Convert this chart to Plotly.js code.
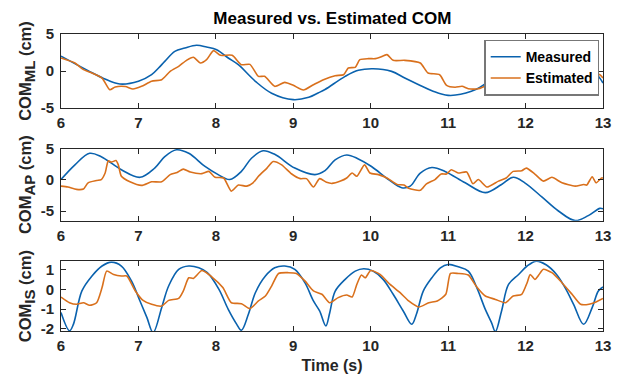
<!DOCTYPE html>
<html>
<head>
<meta charset="utf-8">
<script src="https://cdn.plot.ly/plotly-3.0.1.min.js"></script>
<style>html,body{margin:0;padding:0;background:#fff;}#chart{width:619px;height:380px;}</style>
</head>
<body>
<div id="chart"></div>
<script>
// ---- Data ----
const seriesNames = ["Measured", "Estimated"];
const xTickVals = [6, 7, 8, 9, 10, 11, 12, 13];
const xTickText = ["6", "7", "8", "9", "10", "11", "12", "13"];

// COM ML
const tMlMeas = [6.0, 6.35, 6.55, 6.76, 7.0, 7.17, 7.26, 7.34, 7.47, 7.6, 7.75, 7.88, 8.01, 8.16, 8.29, 8.51, 8.72, 9.0, 9.2, 9.32, 9.41, 9.67, 9.84, 10.03, 10.27, 10.44, 10.62, 10.79, 11.0, 11.3, 11.52, 11.76, 12.0, 12.2, 12.4, 12.65, 12.8, 12.94, 13.0];
const mlMeas  = [2.0, 0.04, -1.0, -1.76, -1.39, -0.5, 0.4, 1.3, 2.66, 3.1, 3.47, 3.24, 2.88, 1.76, 0.85, -1.39, -3.0, -3.87, -3.55, -2.97, -2.5, -0.72, 0.1, 0.31, -0.05, -0.95, -1.85, -2.66, -3.29, -2.75, -1.39, 1.3, 2.9, 3.5, 3.3, 1.8, 0.6, -0.72, -1.62];
const tMlEst = [6.0, 6.18, 6.29, 6.4, 6.53, 6.63, 6.7, 6.83, 6.93, 7.04, 7.17, 7.3, 7.41, 7.52, 7.62, 7.71, 7.8, 7.88, 7.97, 8.06, 8.21, 8.33, 8.44, 8.55, 8.63, 8.76, 8.89, 9.0, 9.13, 9.26, 9.39, 9.54, 9.65, 9.71, 9.8, 9.86, 9.97, 10.06, 10.12, 10.21, 10.29, 10.44, 10.64, 10.74, 10.89, 10.98, 11.09, 11.18, 11.26, 11.39, 11.52, 11.63, 11.78, 12.0, 12.3, 12.6, 12.8, 12.96, 13.0];
const mlEst  = [1.76, 1.08, 0.18, -0.27, -0.95, -2.52, -2.16, -2.1, -2.43, -2.07, -1.39, -1.17, -0.05, 0.63, 1.44, 1.85, 1.08, 1.53, 2.75, 2.12, 2.12, 0.85, 0.9, -0.72, -0.72, -2.07, -1.53, -1.94, -2.57, -1.85, -1.17, -0.63, -0.5, 0.41, 0.5, 1.53, 1.67, 1.67, 1.85, 2.21, 1.44, 1.44, 1.08, -0.27, -0.5, -1.94, -2.2, -2.07, -2.39, -2.39, -1.85, -1.26, -0.86, -0.9, -0.6, -0.8, -0.3, -0.5, -0.95];

// COM AP
const tApMeas = [6.0, 6.18, 6.37, 6.52, 6.78, 7.02, 7.21, 7.34, 7.49, 7.65, 7.86, 8.03, 8.18, 8.33, 8.46, 8.61, 8.76, 9.02, 9.28, 9.41, 9.54, 9.69, 9.84, 10.01, 10.23, 10.4, 10.51, 10.64, 10.79, 10.96, 11.22, 11.48, 11.69, 11.84, 11.99, 12.21, 12.42, 12.64, 12.81, 12.96, 13.0];
const apMeas  = [0.05, 2.41, 4.26, 3.72, 1.62, 0.41, 1.89, 3.72, 4.83, 4.26, 2.15, 0.84, 0.05, 1.36, 3.47, 4.67, 4.1, 1.89, 0.84, 1.47, 3.2, 4.0, 3.36, 2.15, 0.05, -1.26, -1.0, 1.1, 1.99, 1.36, -0.47, -2.05, -0.74, 0.41, -0.47, -2.74, -4.95, -6.53, -5.74, -4.57, -4.65];
const tApEst = [6.0, 6.09, 6.2, 6.29, 6.35, 6.46, 6.52, 6.57, 6.61, 6.65, 6.71, 6.74, 6.78, 6.89, 7.04, 7.17, 7.3, 7.41, 7.5, 7.58, 7.67, 7.82, 7.91, 7.99, 8.1, 8.2, 8.29, 8.4, 8.48, 8.55, 8.66, 8.74, 8.85, 8.98, 9.09, 9.17, 9.26, 9.34, 9.43, 9.5, 9.61, 9.69, 9.76, 9.82, 9.92, 9.99, 10.1, 10.21, 10.34, 10.43, 10.49, 10.64, 10.72, 10.83, 10.91, 10.98, 11.04, 11.13, 11.24, 11.32, 11.39, 11.5, 11.65, 11.75, 11.84, 11.95, 12.01, 12.12, 12.23, 12.34, 12.47, 12.64, 12.75, 12.79, 12.86, 12.91, 12.98, 13.0];
const apEst  = [-1.0, -1.15, -1.53, -1.47, -0.47, -0.1, 0.05, 1.1, 3.04, 2.85, 3.1, 2.41, 0.57, -0.31, -0.89, -0.31, -0.31, 0.84, 1.2, 1.73, 1.26, 1.0, 1.36, 0.41, 0.3, -1.8, -0.84, -1.0, -0.47, 0.57, 1.89, 2.94, 2.41, 0.94, 0.2, 0.2, -1.15, 0.2, -0.4, -0.57, -0.2, 0.3, 1.1, 0.57, 2.41, 1.1, 0.84, 0.3, -0.74, -0.84, -1.36, -1.68, -0.63, 0.05, 0.94, 0.94, 1.63, 1.1, 1.26, -0.63, 0.05, -1.15, -0.2, 0.3, 1.36, 1.47, 1.89, 0.94, -0.2, 0.41, -0.47, -1.0, -0.74, -0.84, 0.5, -0.47, 0.3, 0.3];

// COM IS
const tIsMeas = [6.0, 6.11, 6.16, 6.27, 6.4, 6.53, 6.65, 6.78, 6.91, 7.02, 7.11, 7.19, 7.3, 7.39, 7.52, 7.65, 7.78, 7.89, 8.04, 8.16, 8.27, 8.33, 8.42, 8.51, 8.64, 8.76, 8.89, 9.02, 9.15, 9.26, 9.34, 9.42, 9.47, 9.54, 9.67, 9.8, 9.91, 10.03, 10.16, 10.29, 10.42, 10.53, 10.59, 10.68, 10.79, 10.9, 11.0, 11.13, 11.26, 11.37, 11.48, 11.56, 11.61, 11.69, 11.78, 11.91, 12.02, 12.14, 12.27, 12.4, 12.51, 12.62, 12.75, 12.86, 12.94, 13.0];
const isMeas  = [-1.18, -2.11, -1.78, -0.08, 0.68, 1.19, 1.39, 1.19, 0.43, -0.59, -1.44, -2.2, -0.93, 0.17, 1.02, 1.19, 1.1, 0.85, 0.0, -1.02, -1.78, -2.08, -1.27, -0.17, 0.68, 1.1, 1.19, 1.02, 0.34, -0.59, -1.1, -1.86, -1.2, -0.1, 0.51, 0.93, 1.05, 0.93, 0.51, -0.25, -1.1, -1.78, -1.27, -0.08, 0.59, 1.1, 1.27, 1.15, 0.93, 0.09, -1.02, -1.69, -2.15, -1.1, 0.25, 0.76, 1.19, 1.44, 1.24, 0.76, 0.09, -0.76, -1.78, -0.93, -0.08, 0.12];
const tIsEst = [6.0, 6.11, 6.2, 6.29, 6.37, 6.46, 6.53, 6.59, 6.68, 6.78, 6.85, 6.96, 7.06, 7.17, 7.3, 7.39, 7.52, 7.58, 7.65, 7.71, 7.82, 7.95, 8.09, 8.2, 8.33, 8.44, 8.55, 8.64, 8.72, 8.81, 8.94, 9.04, 9.15, 9.26, 9.37, 9.47, 9.58, 9.69, 9.76, 9.82, 9.88, 9.93, 10.0, 10.12, 10.25, 10.38, 10.49, 10.62, 10.75, 10.86, 10.97, 11.03, 11.13, 11.26, 11.37, 11.48, 11.61, 11.74, 11.84, 11.95, 12.02, 12.06, 12.12, 12.17, 12.23, 12.34, 12.47, 12.6, 12.71, 12.82, 12.91, 13.0];
const isEst  = [-0.39, -0.68, -0.76, -0.68, -0.81, -0.68, 0.09, 0.93, 0.76, 0.68, 0.68, -0.08, -0.56, -0.76, -0.85, -0.56, -0.46, -0.08, 0.59, 0.56, 0.96, 0.63, 0.09, -0.68, -0.73, -0.98, -0.59, -0.34, 0.17, 0.81, 0.85, 0.81, 0.43, -0.08, -0.25, -0.68, -0.42, -0.29, -0.39, 0.25, 0.73, 0.59, 0.96, 0.76, 0.25, -0.17, -0.59, -0.9, -0.68, -0.59, -0.25, 0.81, 0.81, 0.73, 0.12, -0.34, -0.51, -0.68, -0.34, -0.25, 0.34, 0.76, 0.51, 0.73, 1.02, 0.85, 0.34, -0.25, -0.76, -0.76, -0.64, -0.46];

// y ticks
const y1TickVals = [-5, 0, 5];   const y1TickText = ["-5", "0", "5"];
const y2TickVals = [-5, 0, 5];   const y2TickText = ["-5", "0", "5"];
const y3TickVals = [-2, -1, 0, 1]; const y3TickText = ["-2", "-1", "0", "1"];

// ---- Styling ----
const BLUE = "#0A62AE", ORANGE = "#D9701C";
const FONT = "Liberation Sans, Arial, sans-serif";
const AX = "#262626";

function tr(x, y, name, color, xa, ya, show, smooth) {
  return {x: x, y: y, name: name, type: "scatter", mode: "lines",
    line: {color: color, width: 1.6, shape: "spline", smoothing: smooth},
    xaxis: xa, yaxis: ya, showlegend: show, hoverinfo: "skip"};
}

const data = [
  tr(tMlMeas, mlMeas, seriesNames[0], BLUE, "x", "y", true, 1.0),
  tr(tMlEst, mlEst, seriesNames[1], ORANGE, "x", "y", true, 0.6),
  tr(tApMeas, apMeas, seriesNames[0], BLUE, "x2", "y2", false, 1.0),
  tr(tApEst, apEst, seriesNames[1], ORANGE, "x2", "y2", false, 0.6),
  tr(tIsMeas, isMeas, seriesNames[0], BLUE, "x3", "y3", false, 1.0),
  tr(tIsEst, isEst, seriesNames[1], ORANGE, "x3", "y3", false, 0.6)
];

const TICKFONT = {family: FONT, size: 15, color: AX, weight: "bold"};
function xax(anchor, title) {
  const a = {domain: [0, 1], anchor: anchor, range: [6, 13], tickmode: "array",
    tickvals: xTickVals, ticktext: xTickText, ticks: "inside", ticklen: 5, tickcolor: AX,
    showline: true, linecolor: AX, linewidth: 1, mirror: "ticks", showgrid: false, zeroline: false,
    ticklabelstandoff: 1, tickfont: TICKFONT};
  if (title) a.title = {text: title, font: {family: FONT, size: 16, color: AX, weight: "bold"}, standoff: 6};
  return a;
}
function yax(anchor, domain, range, tv, tt, title) {
  return {domain: domain, anchor: anchor, range: range, tickmode: "array",
    tickvals: tv, ticktext: tt, ticks: "inside", ticklen: 5, tickcolor: AX,
    showline: true, linecolor: AX, linewidth: 1, mirror: "ticks", showgrid: false, zeroline: false,
    ticklabelstandoff: 3, tickfont: TICKFONT,
    title: {text: title, font: {family: FONT, size: 16.5, color: AX, weight: "bold"}, standoff: 4}};
}

const layout = {
  width: 619, height: 380,
  margin: {l: 61, r: 16, t: 34, b: 49},
  paper_bgcolor: "#fff", plot_bgcolor: "#fff",
  title: {text: "Measured vs. Estimated COM", font: {family: FONT, size: 17, color: "#000", weight: "bold"},
    x: 0.537, xanchor: "center", y: 0.952, yanchor: "middle"},
  xaxis: xax("y"),
  xaxis2: xax("y2"),
  xaxis3: xax("y3", "Time (s)"),
  yaxis: yax("x", [0.7508, 1], [-5, 5], y1TickVals, y1TickText, "COM<sub><span style=\"font-size:15px\">ML</span></sub> (cm)"),
  yaxis2: yax("x2", [0.3714, 0.6138], [-6.55, 5.0], y2TickVals, y2TickText, "COM<sub><span style=\"font-size:15px\">AP</span></sub> (cm)"),
  yaxis3: yax("x3", [0, 0.2347], [-2.12, 1.43], y3TickVals, y3TickText, "COM<sub><span style=\"font-size:15px\">IS</span></sub> (cm)"),
  showlegend: true,
  legend: {x: 0.993, xanchor: "right", y: 0.981, yanchor: "top",
    bgcolor: "#fff", bordercolor: "#777", borderwidth: 1.5,
    font: {family: FONT, size: 14, color: "#000", weight: "bold"},
    itemwidth: 30, tracegroupgap: 0}
};

Plotly.newPlot("chart", data, layout, {staticPlot: true, displayModeBar: false});
</script>
</body>
</html>
